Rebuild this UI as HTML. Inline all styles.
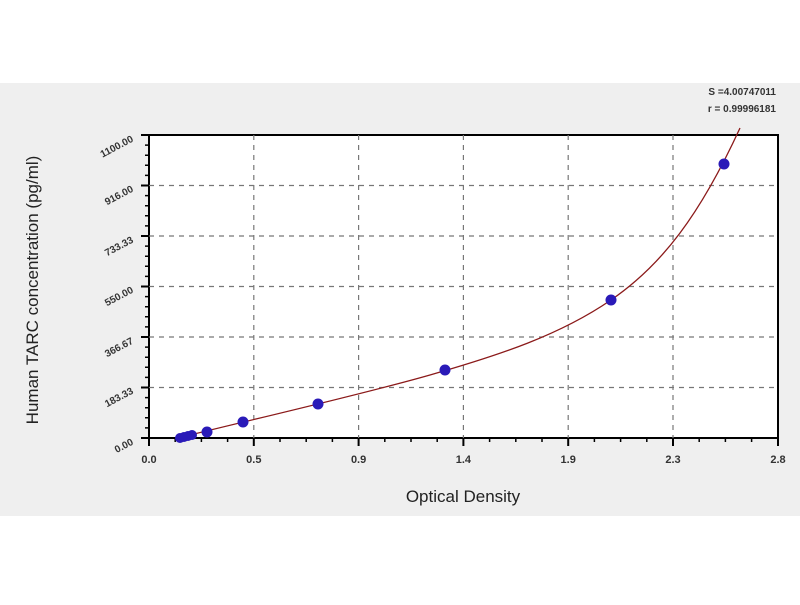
<!DOCTYPE html>
<html><head><style>
body{margin:0;background:#fff;width:800px;height:600px;overflow:hidden}
</style></head><body>
<svg width="800" height="600" xmlns="http://www.w3.org/2000/svg" font-family="Liberation Sans, sans-serif">
<rect x="0" y="83" width="800" height="433" fill="#efefef"/>
<rect x="149" y="135" width="629" height="303" fill="#fff" stroke="#000" stroke-width="2"/>
<g stroke="#777" stroke-width="1.2" stroke-dasharray="5,5">
<line x1="253.8" y1="135" x2="253.8" y2="438"/>
<line x1="358.6" y1="135" x2="358.6" y2="438"/>
<line x1="463.4" y1="135" x2="463.4" y2="438"/>
<line x1="568.2" y1="135" x2="568.2" y2="438"/>
<line x1="673" y1="135" x2="673" y2="438"/>
<line x1="149" y1="185.5" x2="778" y2="185.5"/>
<line x1="149" y1="236" x2="778" y2="236"/>
<line x1="149" y1="286.5" x2="778" y2="286.5"/>
<line x1="149" y1="337" x2="778" y2="337"/>
<line x1="149" y1="387.5" x2="778" y2="387.5"/>
</g>
<g stroke="#000" stroke-width="2">
<line x1="141" y1="135" x2="149" y2="135"/><line x1="141" y1="185.5" x2="149" y2="185.5"/><line x1="141" y1="236" x2="149" y2="236"/><line x1="141" y1="286.5" x2="149" y2="286.5"/><line x1="141" y1="337" x2="149" y2="337"/><line x1="141" y1="387.5" x2="149" y2="387.5"/><line x1="141" y1="438" x2="149" y2="438"/>
<line x1="149" y1="438" x2="149" y2="446"/><line x1="253.8" y1="438" x2="253.8" y2="446"/><line x1="358.6" y1="438" x2="358.6" y2="446"/><line x1="463.4" y1="438" x2="463.4" y2="446"/><line x1="568.2" y1="438" x2="568.2" y2="446"/><line x1="673" y1="438" x2="673" y2="446"/><line x1="778" y1="438" x2="778" y2="446"/>
</g>
<g stroke="#000" stroke-width="1.5">
<path d="M145 145.1h4M145 155.2h4M145 165.3h4M145 175.4h4M145 195.6h4M145 205.7h4M145 215.8h4M145 225.9h4M145 246.1h4M145 256.2h4M145 266.3h4M145 276.4h4M145 296.6h4M145 306.7h4M145 316.8h4M145 326.9h4M145 347.1h4M145 357.2h4M145 367.3h4M145 377.4h4M145 397.6h4M145 407.7h4M145 417.8h4M145 427.9h4"/>
<path d="M175.2 438v4M201.4 438v4M227.6 438v4M280 438v4M306.2 438v4M332.4 438v4M384.8 438v4M411 438v4M437.2 438v4M489.6 438v4M515.8 438v4M542 438v4M594.4 438v4M620.6 438v4M646.8 438v4M699.2 438v4M725.4 438v4M751.6 438v4"/>
</g>
<path d="M178 438 C250 420, 360 395, 430 375 S560 335, 611 300 S700 215, 740 128" fill="none" stroke="#8b1a1a" stroke-width="1.3"/>
<g fill="#2a1ab8">
<circle cx="180" cy="438" r="5"/><circle cx="184" cy="437" r="5"/><circle cx="188" cy="436" r="5"/><circle cx="192" cy="435" r="5"/><circle cx="207" cy="432" r="5.5"/><circle cx="243" cy="422" r="5.5"/><circle cx="318" cy="404" r="5.5"/><circle cx="445" cy="370" r="5.5"/><circle cx="611" cy="300" r="5.5"/><circle cx="724" cy="164" r="5.5"/>
</g>
<g font-size="10" font-weight="bold" fill="#333" text-anchor="end">
<text transform="translate(134,141) rotate(-28)">1100.00</text>
<text transform="translate(134,191) rotate(-28)">916.00</text>
<text transform="translate(134,242) rotate(-28)">733.33</text>
<text transform="translate(134,292) rotate(-28)">550.00</text>
<text transform="translate(134,343) rotate(-28)">366.67</text>
<text transform="translate(134,393) rotate(-28)">183.33</text>
<text transform="translate(134,444) rotate(-28)">0.00</text>
</g>
<g font-size="11" font-weight="bold" fill="#333" text-anchor="middle">
<text x="149" y="463">0.0</text><text x="253.8" y="463">0.5</text><text x="358.6" y="463">0.9</text><text x="463.4" y="463">1.4</text><text x="568.2" y="463">1.9</text><text x="673" y="463">2.3</text><text x="778" y="463">2.8</text>
</g>
<text x="463" y="502" font-size="17" text-anchor="middle" fill="#222">Optical Density</text>
<text transform="translate(38,290) rotate(-90)" font-size="17" text-anchor="middle" fill="#222">Human TARC  concentration (pg/ml)</text>
<text x="776" y="95" font-size="10" font-weight="bold" text-anchor="end" fill="#333">S =4.00747011</text>
<text x="776" y="112" font-size="10" font-weight="bold" text-anchor="end" fill="#333">r = 0.99996181</text>
</svg>
</body></html>
